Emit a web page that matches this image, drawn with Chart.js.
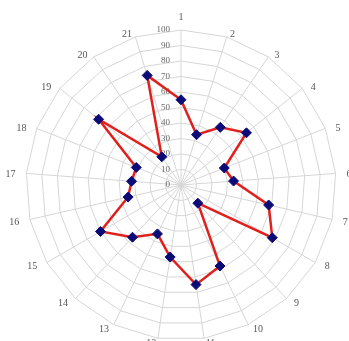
<!DOCTYPE html>
<html><head><meta charset="utf-8">
<script src="https://cdn.jsdelivr.net/npm/chart.js@4"></script>
<style>
html,body{margin:0;padding:0;background:#fff;overflow:hidden;width:349px;height:341px;}
#wrap{position:absolute;left:0;top:0;width:349px;height:341px;}
</style></head><body>
<div id="wrap"><canvas id="c"></canvas></div>
<script>
const categories = ['1','2','3','4','5','6','7','8','9','10','11','12','13','14','15','16','17','18','19','20','21'];
const values = [55,34,45,54,30,34,58,68,16,58,65,47,35,46,60,35,32,31,68,22,74];
const tickValues = [0,10,20,30,40,50,60,70,80,90,100];
const tickLabels = ['0','10','20','30','40','50','60','70','80','90','100'];

const FONT = '"Liberation Serif", "DejaVu Serif", serif';

const labelText = {
  id: 'labelText',
  beforeDatasetsDraw(chart) {
    const s = chart.scales.r, ctx = chart.ctx;
    ctx.save();
    // value ticks, right-aligned just left of the vertical axis
    ctx.font = '9px ' + FONT;
    ctx.fillStyle = '#666';
    ctx.textAlign = 'right';
    ctx.textBaseline = 'middle';
    tickValues.forEach((v, i) => {
      const d = s.getDistanceFromCenterForValue(v);
      ctx.fillText(tickLabels[i], s.xCenter - 11, s.yCenter - d);
    });
    // category labels at the end of each spoke
    ctx.font = '10px ' + FONT;
    ctx.fillStyle = '#555';
    categories.forEach((lab, i) => {
      const p = s.getPointPosition(i, s.drawingArea);
      const th = p.angle + Math.PI / 2;
      const sn = Math.sin(th), cs = Math.cos(th);
      let x, y;
      if (Math.abs(sn) < 0.01) {
        ctx.textAlign = 'center';
        x = p.x;
        y = p.y - 13 * cs;
      } else {
        ctx.textAlign = sn > 0 ? 'left' : 'right';
        x = p.x + 11 * sn;
        y = p.y + 1.5 - 4 * cs;
      }
      ctx.fillText(lab, x, y);
    });
    ctx.restore();
  }
};

new Chart(document.getElementById('c'), {
  type: 'radar',
  data: {
    labels: categories,
    datasets: [{
      data: values,
      borderColor: '#e0201c',
      borderWidth: 2.5,
      fill: false,
      tension: 0,
      clip: false,
      pointStyle: 'rectRot',
      pointRadius: 5,
      pointBackgroundColor: '#0b0b78',
      pointBorderColor: '#0b0b78',
      pointBorderWidth: 1
    }]
  },
  options: {
    responsive: true,
    maintainAspectRatio: false,
    animation: false,
    layout: { padding: { left: 26, right: 13, top: 30, bottom: 1 } },
    plugins: { legend: { display: false }, tooltip: { enabled: false } },
    scales: {
      r: {
        min: 0, max: 100,
        ticks: { stepSize: 10, display: false },
        grid: { color: '#d6d6d6', lineWidth: 1 },
        angleLines: { color: '#d6d6d6', lineWidth: 1 },
        pointLabels: { display: false }
      }
    }
  },
  plugins: [labelText]
});
</script>
</body></html>
